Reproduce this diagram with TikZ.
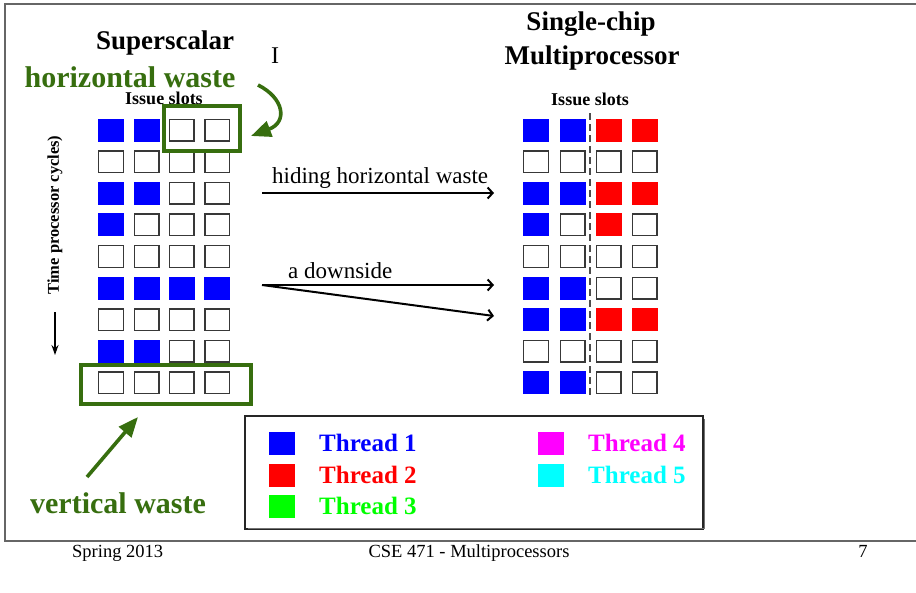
\documentclass[tikz,border=0pt]{standalone}
\usepackage{fontspec}
\setmainfont{Liberation Serif}
\usetikzlibrary{arrows.meta}
\definecolor{wgreen}{RGB}{55,110,15}
\definecolor{tgreen}{RGB}{0,255,0}
\definecolor{tmag}{RGB}{255,0,255}
\definecolor{tcyan}{RGB}{0,255,255}
\colorlet{cB}{blue}\colorlet{cBD}{blue}
\colorlet{cR}{red}\colorlet{cRD}{red}
\colorlet{cE}{white}\colorlet{cED}{black!78}
\tikzset{
  slot/.style={minimum width=24.6pt, minimum height=21.6pt, inner sep=0pt, line width=1.4pt, draw, fill},
  legsq/.style={minimum width=26pt, minimum height=23pt, inner sep=0pt},
  title/.style={font=\bfseries\fontsize{27}{30}\selectfont, inner sep=0pt},
  waste/.style={font=\bfseries\fontsize{30}{33}\selectfont, text=wgreen, inner sep=0pt},
  slotlabel/.style={font=\bfseries\fontsize{18}{20}\selectfont, inner sep=0pt},
  plain/.style={font=\fontsize{23}{26}\selectfont, inner sep=0pt},
  foot/.style={font=\fontsize{18.5}{20}\selectfont, inner sep=0pt},
  legtext/.style={font=\bfseries\fontsize{25}{28}\selectfont, inner sep=0pt, anchor=west},
  wbox/.style={draw=wgreen, line width=4pt, inner sep=0pt},
  frameline/.style={draw=black!60, line width=1.5pt},
  blackarrow/.style={line width=2pt, -{Straight Barb[length=5pt,width=11pt,line width=2pt]}},
  greenarrow/.style={draw=wgreen, fill=wgreen, line width=3.6pt, -{Triangle[length=20pt,width=16pt]}}
}
\begin{document}
\begin{tikzpicture}[x=1pt,y=-1pt]
\useasboundingbox (0,0) rectangle (916,592);
% frame
\draw[frameline] (916,4) -- (5,4) -- (5,541) -- (916,541);
% titles
\node[title] (tss) at (165,43) {Superscalar};
\node[title] (tsc1) at (591,24) {Single-chip};
\node[title] (tsc2) at (592,58) {Multiprocessor};
\node[font=\fontsize{24}{26}\selectfont, inner sep=0pt] (bar) at (275,56) {I};
\node[waste] (hw) at (130,77) {horizontal waste};
\node[slotlabel] (isl) at (164,98) {Issue slots};
\node[slotlabel] (isr) at (590,99) {Issue slots};
% left grid
\foreach \r/\a/\b/\cc/\d in {1/B/B/E/E,2/E/E/E/E,3/B/B/E/E,4/B/E/E/E,5/E/E/E/E,6/B/B/B/B,7/E/E/E/E,8/B/B/E/E,9/E/E/E/E}{
  \pgfmathsetmacro\yy{130+31.6*(\r-1)}
  \node[slot, fill=c\a, draw=c\a D] (L\r-1) at (111,\yy) {};
  \node[slot, fill=c\b, draw=c\b D] (L\r-2) at (146.5,\yy) {};
  \node[slot, fill=c\cc, draw=c\cc D] (L\r-3) at (181.8,\yy) {};
  \node[slot, fill=c\d, draw=c\d D] (L\r-4) at (217.3,\yy) {};
}
% right grid
\foreach \r/\a/\b/\cc/\d in {1/B/B/R/R,2/E/E/E/E,3/B/B/R/R,4/B/E/R/E,5/E/E/E/E,6/B/B/E/E,7/B/B/R/R,8/E/E/E/E,9/B/B/E/E}{
  \pgfmathsetmacro\yy{130+31.6*(\r-1)}
  \node[slot, fill=c\a, draw=c\a D] (R\r-1) at (536,\yy) {};
  \node[slot, fill=c\b, draw=c\b D] (R\r-2) at (572.5,\yy) {};
  \node[slot, fill=c\cc, draw=c\cc D] (R\r-3) at (608.5,\yy) {};
  \node[slot, fill=c\d, draw=c\d D] (R\r-4) at (644.5,\yy) {};
}
\coordinate (dtop) at (590,113);
\coordinate (dbot) at (590,396);
\draw[black!70, line width=1.6pt, dash pattern=on 7pt off 4pt] (dtop) -- (dbot);
% waste boxes
\node[wbox, minimum width=76pt, minimum height=45pt] (hbox) at (202,128.5) {};
\node[wbox, minimum width=170pt, minimum height=39pt] (vbox) at (166,384.5) {};
\coordinate (hwa) at (258,85);
\coordinate (hwb) at (251,136);
\draw[greenarrow, fill=none] (hwa) .. controls (284,98) and (288,122) .. (hwb);
\coordinate (vwa) at (87,477);
\coordinate (vwb) at (138,417);
\draw[greenarrow] (vwa) -- (vwb);
\node[waste] (vw) at (118,503) {vertical waste};
% time axis
\node[font=\bfseries\fontsize{16.5}{18}\selectfont, inner sep=0pt, rotate=90] (time) at (55,215) {Time processor cycles)};
\coordinate (ta) at (55,312);
\coordinate (tb) at (55,355);
\draw[line width=1.5pt, -{Stealth[length=10pt,width=7pt]}] (ta) -- (tb);
% middle arrows
\coordinate (a1s) at (262,193);
\coordinate (a1e) at (494,193);
\coordinate (a2s) at (262,285);
\coordinate (a2e) at (494,285);
\coordinate (a3e) at (494,316);
\node[plain, anchor=base west] (hhw) at (272,183) {hiding horizontal waste};
\node[plain, anchor=base west] (ads) at (288,278) {a downside};
\draw[blackarrow] (a1s) -- (a1e);
\draw[blackarrow] (a2s) -- (a2e);
\draw[blackarrow] (a2s) -- (a3e);
% legend
\node[draw=black!85, line width=1.3pt, minimum width=458pt, minimum height=113pt, inner sep=0pt] (leg) at (474,472.5) {};
\draw[black!55, line width=1.6pt] (leg.north east) ++(0.8,4) -- ++(0,109) -- ++(-456,0);
\node[legsq, fill=blue] (s1) at (282,443.5) {};
\node[legsq, fill=red] (s2) at (282,475) {};
\node[legsq, fill=tgreen] (s3) at (282,506.5) {};
\node[legsq, fill=tmag] (s4) at (550.5,443.5) {};
\node[legsq, fill=tcyan] (s5) at (550.5,475) {};
\node[legtext, text=blue] (t1) at (319,443) {Thread 1};
\node[legtext, text=red] (t2) at (319,475) {Thread 2};
\node[legtext, text=tgreen] (t3) at (319,506) {Thread 3};
\node[legtext, text=tmag] (t4) at (588,443) {Thread 4};
\node[legtext, text=tcyan] (t5) at (588,475) {Thread 5};
% footer
\node[foot, anchor=base west] (f1) at (72,557) {Spring 2013};
\node[foot, anchor=base] (f2) at (469,557) {CSE 471 - Multiprocessors};
\node[foot, anchor=base] (f3) at (863,557) {7};
\end{tikzpicture}
\end{document}
